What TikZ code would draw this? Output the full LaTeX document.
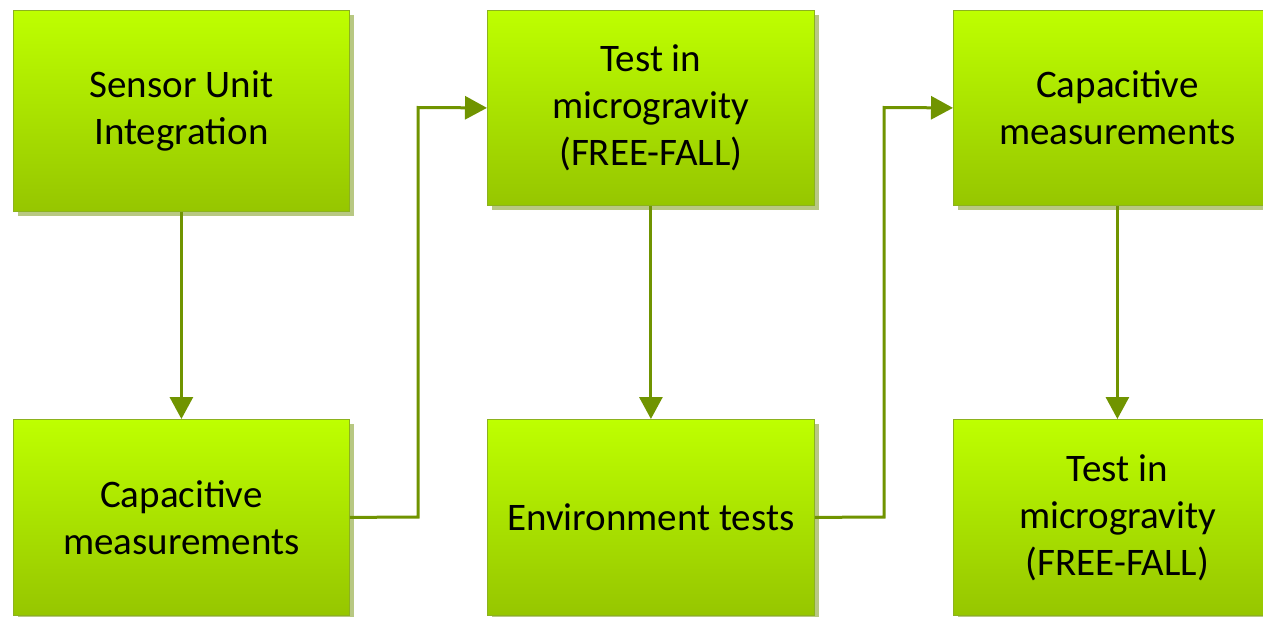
\documentclass[tikz,border=0pt]{standalone}
\usepackage{fontspec}
\setmainfont{Carlito}
\usetikzlibrary{arrows.meta,shadows}
\definecolor{topg}{RGB}{190,255,0}
\definecolor{botg}{RGB}{150,198,0}
\definecolor{edgeg}{RGB}{140,178,30}
\definecolor{shadg}{RGB}{184,200,130}
\definecolor{arrg}{RGB}{112,148,0}
\tikzset{
  box/.style={rectangle, anchor=north west, draw=edgeg, line width=0.8pt,
    top color=topg, bottom color=botg, align=center, inner sep=0pt,
    font=\fontsize{39}{47}\selectfont,
    general shadow={fill=shadg, shadow xshift=5pt, shadow yshift=-5pt}},
  conn/.style={draw=arrg, line width=3pt, -{Triangle[length=22pt,width=23pt]}}
}
\begin{document}
\begin{tikzpicture}[x=1pt,y=-1pt]
\path[use as bounding box] (0,0) rectangle (1263,616);
\clip (0,0) rectangle (1263,616);
\node[box, minimum width=336pt, minimum height=201pt] (b1) at (13,10) {Sensor Unit\\Integration};
\node[box, minimum width=327pt, minimum height=195pt] (b2) at (487,10) {Test in\\microgravity\\(FREE-FALL)};
\node[box, minimum width=328pt, minimum height=195pt] (b3) at (953,10) {Capacitive\\measurements};
\node[box, minimum width=336pt, minimum height=196pt] (b4) at (13,419) {Capacitive\\measurements};
\node[box, minimum width=327pt, minimum height=196pt] (b5) at (487,419) {Environment tests};
\node[box, minimum width=328pt, minimum height=196pt] (b6) at (953,419) {Test in\\microgravity\\(FREE-FALL)};
\coordinate (k1) at (418,517);
\coordinate (k2) at (418,107.5);
\coordinate (k3) at (884,517);
\coordinate (k4) at (884,107.5);
\draw[conn] (b1.south) -- (b4.north);
\draw[conn] (b2.south) -- (b5.north);
\draw[conn] (b3.south) -- (b6.north);
\draw[conn] (b4.east) -- (k1) -- (k2) -- (b2.west);
\draw[conn] (b5.east) -- (k3) -- (k4) -- (b3.west);
\end{tikzpicture}
\end{document}
